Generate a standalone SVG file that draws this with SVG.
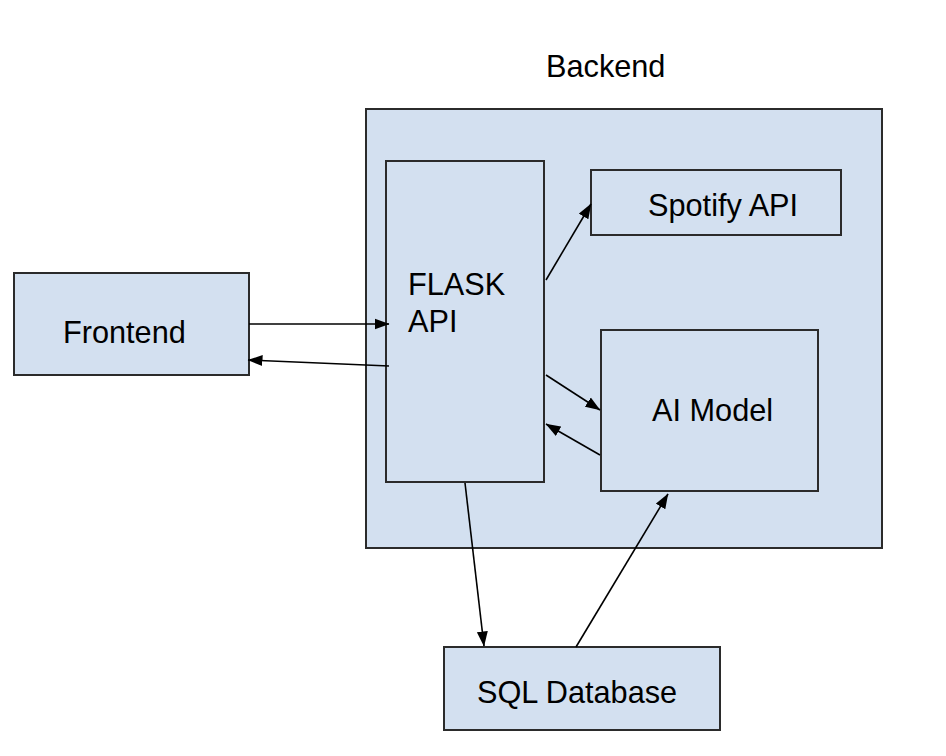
<svg xmlns="http://www.w3.org/2000/svg" width="946" height="756" viewBox="0 0 946 756">
<style>
.box{fill:#d3e0f0;stroke:#2b2b2b;stroke-width:2}
.lbl{font-family:"Liberation Sans",Arial,sans-serif;font-size:30.7px;fill:#000}
.edge{stroke:#000;stroke-width:1.6;fill:none;marker-end:url(#ah)}
</style>
<defs>
<marker id="ah" markerWidth="15" markerHeight="12" refX="14.5" refY="6" orient="auto" markerUnits="userSpaceOnUse" viewBox="0 0 15 12">
<path d="M0,0.5 L15,6 L0,11.5 z" fill="#000"/>
</marker>
</defs>
<rect width="946" height="756" fill="#fff"/>
<g id="backend">
<rect class="box" x="366" y="109" width="516" height="439"/>
<text class="lbl" x="546" y="77">Backend</text>
</g>
<g id="flask">
<rect class="box" x="386" y="161" width="158" height="321"/>
<text class="lbl" x="408" y="295">FLASK</text>
<text class="lbl" x="408" y="332">API</text>
</g>
<g id="spotify">
<rect class="box" x="591" y="170" width="250" height="65"/>
<text class="lbl" x="648" y="216">Spotify API</text>
</g>
<g id="aimodel">
<rect class="box" x="601" y="330" width="217" height="161"/>
<text class="lbl" x="652" y="421">AI Model</text>
</g>
<g id="frontend">
<rect class="box" x="14" y="273" width="235" height="102"/>
<text class="lbl" x="63" y="343">Frontend</text>
</g>
<g id="sql">
<rect class="box" x="444" y="647" width="276" height="83"/>
<text class="lbl" x="477" y="703">SQL Database</text>
</g>
<g id="connectors">
<line class="edge" x1="249" y1="324" x2="389" y2="324"/>
<line class="edge" x1="389" y1="366" x2="248" y2="360"/>
<line class="edge" x1="546" y1="280" x2="591" y2="204"/>
<line class="edge" x1="546" y1="375" x2="600" y2="410"/>
<line class="edge" x1="600" y1="455" x2="546" y2="424"/>
<line class="edge" x1="465" y1="483" x2="484" y2="646"/>
<line class="edge" x1="576" y1="647" x2="668" y2="494"/>
</g>
</svg>
